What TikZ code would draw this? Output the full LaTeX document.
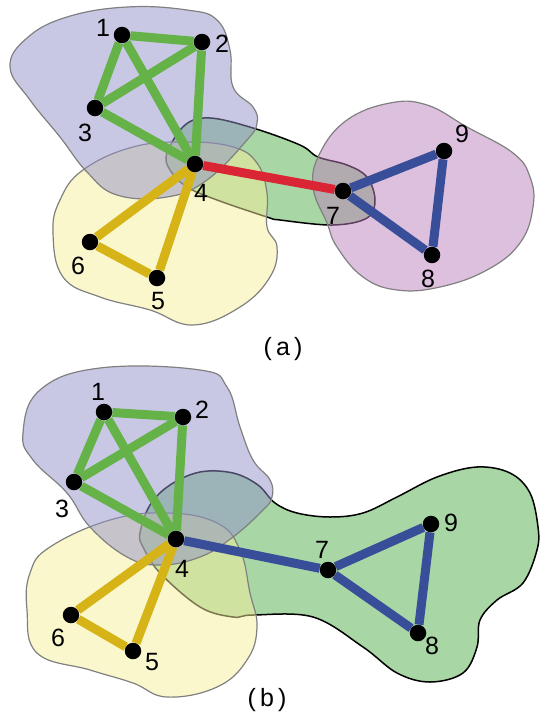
\documentclass[tikz,border=0pt]{standalone}
\usepackage{fontspec}
\setmainfont{Liberation Sans}
\usetikzlibrary{backgrounds}

\definecolor{blobblue}{RGB}{145,145,201}
\definecolor{blobyellow}{RGB}{247,239,155}
\definecolor{blobgreen}{RGB}{81,173,75}
\definecolor{blobpink}{RGB}{187,129,187}
\definecolor{edgegreen}{RGB}{101,178,72}
\definecolor{edgeyellow}{RGB}{214,180,24}
\definecolor{edgered}{RGB}{218,37,52}
\definecolor{edgeblue}{RGB}{57,78,153}

\begin{document}
\begin{tikzpicture}[
    x=1pt, y=-1pt,
    dot/.style={circle, fill=black, minimum size=16.5pt, inner sep=0pt},
    lbl/.style={font=\fontsize{25}{25}\selectfont, inner sep=0pt},
    caption/.style={font=\fontsize{25}{25}\selectfont, inner sep=0pt},
    blob/.style={draw=gray, line width=1.2pt, fill opacity=0.5},
    bigblob/.style={draw=black, line width=1.5pt, fill opacity=0.5},
    link/.style={draw, line width=9pt},
    gedge/.style={link, edgegreen},
    yedge/.style={link, edgeyellow},
    redge/.style={link, edgered},
    bedge/.style={link, edgeblue}
]
    \useasboundingbox (0,0) rectangle (542,717);

    % Clusters (a)
    \begin{scope}[on background layer]
    \path [bigblob, fill=blobgreen] plot [smooth cycle, tension=0.6] coordinates {
        (167,153) (185,125) (210,118) (253,128) (300,145) (318,157) (347,165)
        (367,177) (375,200) (367,218) (333,225) (280,220) (267,217) (217,200)
        (187,187) (170,170)};
    \path [blob, fill=blobyellow] plot [smooth cycle, tension=0.7] coordinates {
        (83,170) (133,147) (187,142) (233,147) (257,163) (267,193) (267,227)
        (277,247) (270,277) (240,307) (193,325) (150,310) (100,297) (63,277)
        (53,233) (60,200)};
    \path [blob, fill=blobblue] plot [smooth cycle, tension=0.7] coordinates {
        (10,67) (27,38) (67,17) (127,7) (187,10) (217,20) (230,50) (233,87)
        (253,107) (257,123) (247,140) (207,180) (167,197) (117,195) (87,172)
        (60,137) (30,100)};
    \path [blob, fill=blobpink] plot [smooth cycle, tension=0.7] coordinates {
        (313,187) (320,153) (347,120) (390,103) (427,105) (467,127) (513,153)
        (530,177) (533,207) (520,243) (487,270) (440,287) (397,290) (363,277)
        (337,247) (327,223)};
    \end{scope}

    % Place nodes (a)
    \node [dot] (a1) at (122,35) {};
    \node [dot] (a2) at (202,42) {};
    \node [dot] (a3) at (95,108) {};
    \node [dot] (a4) at (195,164) {};
    \node [dot] (a5) at (157,278) {};
    \node [dot] (a6) at (90,242) {};
    \node [dot] (a7) at (343,191) {};
    \node [dot] (a8) at (432,255) {};
    \node [dot] (a9) at (444,151) {};

    \node [lbl] (a1 lbl) at (103,28) {1};
    \node [lbl] (a2 lbl) at (222,44) {2};
    \node [lbl] (a3 lbl) at (85,133) {3};
    \node [lbl] (a4 lbl) at (201,193) {4};
    \node [lbl] (a5 lbl) at (158,301) {5};
    \node [lbl] (a6 lbl) at (78,266) {6};
    \node [lbl] (a7 lbl) at (333,216) {7};
    \node [lbl] (a8 lbl) at (428,279) {8};
    \node [lbl] (a9 lbl) at (462,134) {9};

    \node [caption] (cap a) at (283,349) {(\,a\,)};

    % Draw edges (a)
    \begin{scope}[on background layer]
    \path [gedge] (a1) -- (a2);
    \path [gedge] (a1) -- (a3);
    \path [gedge] (a1) -- (a4);
    \path [gedge] (a2) -- (a3);
    \path [gedge] (a2) -- (a4);
    \path [gedge] (a3) -- (a4);
    \path [yedge] (a4) -- (a5);
    \path [yedge] (a4) -- (a6);
    \path [yedge] (a5) -- (a6);
    \path [redge] (a4) -- (a7);
    \path [bedge] (a7) -- (a8);
    \path [bedge] (a7) -- (a9);
    \path [bedge] (a8) -- (a9);
    \end{scope}

    % Clusters (b)
    \begin{scope}[on background layer]
    \path [bigblob, fill=blobgreen] plot [smooth cycle, tension=0.6] coordinates {
        (140,533) (150,505) (170,485) (200,472) (233,473) (258,485) (275,503)
        (297,513) (330,517) (363,513) (397,497) (437,477) (477,467) (510,473)
        (530,493) (538,527) (537,550) (523,583) (497,600) (480,620) (477,647)
        (463,673) (430,682) (397,673) (363,647) (313,617) (253,615) (233,617)
        (200,607) (160,573) (143,547)};
    \path [blob, fill=blobyellow] plot [smooth cycle, tension=0.7] coordinates {
        (50,547) (110,520) (167,513) (217,523) (240,550) (250,593) (257,627)
        (247,660) (217,687) (167,697) (133,683) (90,670) (37,653) (27,610)
        (30,573)};
    \path [blob, fill=blobblue] plot [smooth cycle, tension=0.7] coordinates {
        (23,433) (40,390) (100,368) (200,370) (227,387) (240,427) (253,460)
        (270,480) (272,497) (263,510) (233,537) (200,557) (160,565) (127,557)
        (90,527) (67,493) (33,460)};
    \end{scope}

    % Place nodes (b)
    \node [dot] (b1) at (104,412) {};
    \node [dot] (b2) at (183,417) {};
    \node [dot] (b3) at (74,482) {};
    \node [dot] (b4) at (176,539) {};
    \node [dot] (b5) at (133,651) {};
    \node [dot] (b6) at (71,615) {};
    \node [dot] (b7) at (328,570) {};
    \node [dot] (b8) at (418,633) {};
    \node [dot] (b9) at (431,524) {};

    \node [lbl] (b1 lbl) at (98,392) {1};
    \node [lbl] (b2 lbl) at (202,410) {2};
    \node [lbl] (b3 lbl) at (62,509) {3};
    \node [lbl] (b4 lbl) at (182,569) {4};
    \node [lbl] (b5 lbl) at (152,662) {5};
    \node [lbl] (b6 lbl) at (58,638) {6};
    \node [lbl] (b7 lbl) at (322,550) {7};
    \node [lbl] (b8 lbl) at (432,646) {8};
    \node [lbl] (b9 lbl) at (451,523) {9};

    \node [caption] (cap b) at (267,700) {(\,b\,)};

    % Draw edges (b)
    \begin{scope}[on background layer]
    \path [gedge] (b1) -- (b2);
    \path [gedge] (b1) -- (b3);
    \path [gedge] (b1) -- (b4);
    \path [gedge] (b2) -- (b3);
    \path [gedge] (b2) -- (b4);
    \path [gedge] (b3) -- (b4);
    \path [yedge] (b4) -- (b5);
    \path [yedge] (b4) -- (b6);
    \path [yedge] (b5) -- (b6);
    \path [bedge] (b4) -- (b7);
    \path [bedge] (b7) -- (b8);
    \path [bedge] (b7) -- (b9);
    \path [bedge] (b8) -- (b9);
    \end{scope}
\end{tikzpicture}
\end{document}
